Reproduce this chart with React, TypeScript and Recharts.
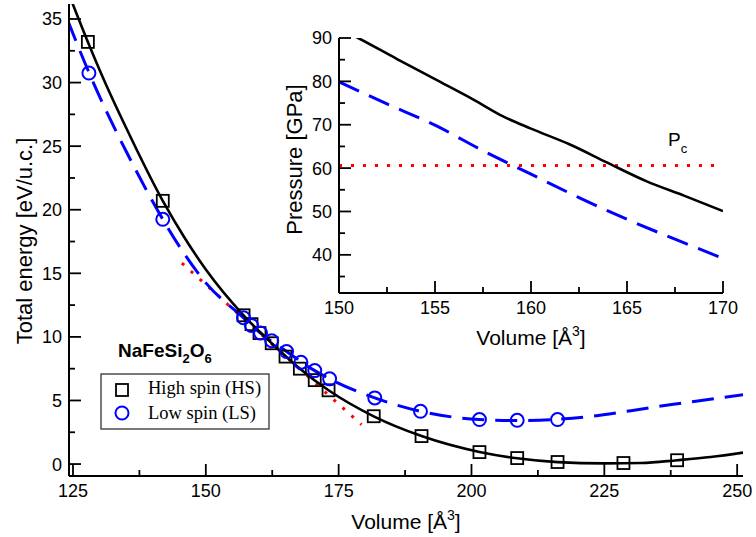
import React from 'react';
import {
  ComposedChart,
  Line,
  Scatter,
  XAxis,
  YAxis,
  ReferenceLine,
  Legend,
  CartesianGrid,
} from 'recharts';

const SANS = "'Liberation Sans', Arial, Helvetica, sans-serif";
const SERIF = "'Liberation Serif', 'Times New Roman', serif";

// ---------- main panel : total energy vs volume ----------
const HS_VOL = [127.8, 141.9, 157.1, 158.6, 160.1, 162.4, 165.0, 167.7, 170.5, 173.1, 181.6, 190.6, 201.5, 208.6, 216.2, 228.6, 238.7];
const HS_ENERGY = [33.2, 20.7, 11.7, 11.0, 10.3, 9.5, 8.45, 7.5, 6.6, 5.8, 3.76, 2.2, 0.94, 0.47, 0.16, 0.08, 0.3];

const LS_VOL = [128.0, 141.9, 157.1, 158.6, 160.3, 162.4, 165.2, 167.9, 170.5, 173.3, 181.8, 190.4, 201.5, 208.6, 216.2];
const LS_ENERGY = [30.75, 19.25, 11.5, 10.9, 10.3, 9.7, 8.85, 8.0, 7.35, 6.7, 5.2, 4.15, 3.5, 3.44, 3.5];

const HS_FIT_VOL = [124, 127.8, 131, 135, 141.9, 146, 150, 157.1, 162.4, 167.7, 173.1, 181.6, 190.6, 201.5, 208.6, 216.2, 225, 232, 238.7, 245, 251.5];
const HS_FIT_ENERGY = [37.2, 33.2, 30.05, 26.45, 20.7, 17.8, 15.3, 11.7, 9.5, 7.5, 5.8, 3.75, 2.2, 0.95, 0.45, 0.15, 0.05, 0.08, 0.3, 0.55, 0.92];

const LS_FIT_VOL = [124, 128, 131, 135, 141.9, 146, 150, 157.1, 160.3, 165.2, 170.5, 173.3, 181.8, 190.4, 201.5, 208.6, 216.2, 222, 230, 238, 246, 251.5];
const LS_FIT_ENERGY = [34.9, 30.8, 28.0, 24.6, 19.25, 16.5, 14.25, 11.5, 10.3, 8.85, 7.35, 6.7, 5.2, 4.15, 3.5, 3.42, 3.52, 3.72, 4.2, 4.7, 5.15, 5.48];

const TANGENT_VOL = [145.5, 179.3];
const TANGENT_ENERGY = [15.8, 3.1];

const MAIN_X_DOMAIN = [124.25, 251.1];
const MAIN_Y_DOMAIN = [-0.94, 36.18];
const MAIN_X_TICKS = [125, 137.5, 150, 162.5, 175, 187.5, 200, 212.5, 225, 237.5, 250];
const MAIN_X_LABELS = [125, 150, 175, 200, 225, 250];
const MAIN_Y_TICKS = [0, 2.5, 5, 7.5, 10, 12.5, 15, 17.5, 20, 22.5, 25, 27.5, 30, 32.5, 35];
const MAIN_Y_LABELS = [0, 5, 10, 15, 20, 25, 30, 35];

// ---------- inset : pressure vs volume ----------
const HS_P_VOL = [150, 151, 153, 155, 157, 158.6, 160, 162, 164, 166, 168, 170];
const HS_PRESSURE = [92.2, 90, 85.2, 80.5, 75.8, 71.8, 69.1, 65.5, 61.2, 57.0, 53.6, 50.1];

const LS_P_VOL = [150, 152.5, 155, 157.5, 160, 162.5, 165, 167.5, 170];
const LS_PRESSURE = [79.9, 74.8, 69.9, 64.0, 58.6, 53.2, 48.2, 43.6, 39.2];

const PC_PRESSURE = 60.6;

const INSET_X_DOMAIN = [150, 170];
const INSET_Y_DOMAIN = [31.2, 90];
const INSET_X_TICKS = [150, 152.5, 155, 157.5, 160, 162.5, 165, 167.5, 170];
const INSET_X_LABELS = [150, 155, 160, 165, 170];
const INSET_Y_TICKS = [35, 40, 45, 50, 55, 60, 65, 70, 75, 80, 85, 90];
const INSET_Y_LABELS = [40, 50, 60, 70, 80, 90];

const zip = (xs: number[], ys: number[]) => xs.map((x, i) => ({ x, y: ys[i] }));

const hsPoints = zip(HS_VOL, HS_ENERGY);
const lsPoints = zip(LS_VOL, LS_ENERGY);
const hsFit = zip(HS_FIT_VOL, HS_FIT_ENERGY);
const lsFit = zip(LS_FIT_VOL, LS_FIT_ENERGY);
const tangent = zip(TANGENT_VOL, TANGENT_ENERGY);
const hsPressure = zip(HS_P_VOL, HS_PRESSURE);
const lsPressure = zip(LS_P_VOL, LS_PRESSURE);

function FrameTick(props: any) {
  const { x, y, payload, side, labels, showLabel } = props;
  const v = Number(payload?.value);
  const major = labels.includes(v);
  const len = major ? 12 : 6;
  const s = { stroke: '#000', strokeWidth: 1.8 };
  let line: any = null;
  let text: any = null;
  const tp = { fontFamily: SANS, fontSize: 18, fill: '#000' };
  if (side === 'bottom') {
    line = <line x1={x} x2={x} y1={y} y2={y - len} {...s} />;
    if (major && showLabel)
      text = (
        <text x={x} y={y + 21} textAnchor="middle" {...tp}>
          {v}
        </text>
      );
  } else if (side === 'top') {
    line = <line x1={x} x2={x} y1={y} y2={y + len} {...s} />;
  } else if (side === 'left') {
    line = <line x1={x} x2={x + len} y1={y} y2={y} {...s} />;
    if (major && showLabel)
      text = (
        <text x={x - 7} y={y} dy="0.36em" textAnchor="end" {...tp}>
          {v}
        </text>
      );
  } else {
    line = <line x1={x} x2={x - len} y1={y} y2={y} {...s} />;
  }
  return (
    <g>
      {line}
      {text}
    </g>
  );
}

function Square(props: any) {
  const { cx, cy } = props;
  if (cx == null || cy == null) return null;
  return <rect x={cx - 6} y={cy - 6} width={12} height={12} fill="none" stroke="#000" strokeWidth={1.8} />;
}

function Ring(props: any) {
  const { cx, cy } = props;
  if (cx == null || cy == null) return null;
  return <circle cx={cx} cy={cy} r={6.5} fill="none" stroke="#0000ff" strokeWidth={2} />;
}

function XTitle(props: any) {
  const vb = props.viewBox || {};
  const cx = vb.x + vb.width / 2;
  return (
    <text x={cx} y={vb.y + props.dyBase} textAnchor="middle" fontFamily={SANS} fontSize={21} fill="#000">
      Volume [Å
      <tspan fontSize={14} dy={-9}>
        3
      </tspan>
      <tspan dy={9}>]</tspan>
    </text>
  );
}

function YTitle(props: any) {
  const vb = props.viewBox || {};
  const x = vb.x + props.dxBase;
  const y = vb.y + vb.height / 2 + (props.dyShift || 0);
  return (
    <text
      x={x}
      y={y}
      transform={`rotate(-90 ${x} ${y})`}
      textAnchor="middle"
      dominantBaseline="central"
      fontFamily={SANS}
      fontSize={props.size || 22}
      fill="#000"
    >
      {props.text}
    </text>
  );
}

function PcLabel(props: any) {
  const vb = props.viewBox || {};
  const x = vb.x + vb.width - 55;
  const y = vb.y - 20;
  return (
    <text x={x} y={y} fontFamily={SANS} fontSize={19} fill="#000">
      P
      <tspan fontSize={13} dy={7}>
        c
      </tspan>
    </text>
  );
}

function LegendBox() {
  return (
    <svg width={185} height={100} style={{ display: 'block', overflow: 'visible' }}>
      <text x={23} y={22} fontFamily={SANS} fontWeight="bold" fontSize={19} fill="#000">
        NaFeSi
        <tspan fontSize={13} dy={6}>
          2
        </tspan>
        <tspan dy={-6}>O</tspan>
        <tspan fontSize={13} dy={6}>
          6
        </tspan>
      </text>
      <rect x={6} y={39} width={168} height={55} fill="#fff" stroke="#333" strokeWidth={1.3} />
      <rect x={21} y={49} width={12} height={12} fill="none" stroke="#000" strokeWidth={1.8} />
      <text x={53} y={59} fontFamily={SERIF} fontSize={18.5} fill="#000">
        High spin (HS)
      </text>
      <circle cx={27} cy={78} r={6.5} fill="none" stroke="#0000ff" strokeWidth={2} />
      <text x={53} y={84} fontFamily={SERIF} fontSize={18.5} fill="#000">
        Low spin (LS)
      </text>
    </svg>
  );
}

const axisLine = { stroke: '#000', strokeWidth: 2 };

export default function App() {
  return (
    <div style={{ position: 'absolute', left: 0, top: 0, width: 756, height: 537, background: '#fff' }}>
      <div style={{ position: 'absolute', left: 0, top: 0 }}>
        <ComposedChart width={756} height={537} margin={{ top: 4, right: 13, left: 0, bottom: 0 }}>
          <XAxis
            xAxisId="b"
            dataKey="x"
            type="number"
            orientation="bottom"
            domain={MAIN_X_DOMAIN}
            allowDataOverflow
            ticks={MAIN_X_TICKS}
            interval={0}
            height={61}
            tickSize={0}
            tickMargin={0}
            tickLine={false}
            axisLine={axisLine}
            tick={<FrameTick side="bottom" labels={MAIN_X_LABELS} showLabel />}
            label={<XTitle dyBase={53} />}
          />
          <XAxis
            xAxisId="t"
            type="number"
            orientation="top"
            domain={MAIN_X_DOMAIN}
            allowDataOverflow
            ticks={MAIN_X_TICKS}
            interval={0}
            height={0}
            tickSize={0}
            tickMargin={0}
            tickLine={false}
            axisLine={axisLine}
            tick={<FrameTick side="top" labels={MAIN_X_LABELS} />}
          />
          <YAxis
            yAxisId="l"
            dataKey="y"
            type="number"
            orientation="left"
            domain={MAIN_Y_DOMAIN}
            allowDataOverflow
            ticks={MAIN_Y_TICKS}
            interval={0}
            width={69}
            tickSize={0}
            tickMargin={0}
            tickLine={false}
            axisLine={axisLine}
            tick={<FrameTick side="left" labels={MAIN_Y_LABELS} showLabel />}
            label={<YTitle text="Total energy [eV/u.c.]" dxBase={24} dyShift={1} size={22} />}
          />
          <YAxis
            yAxisId="r"
            type="number"
            orientation="right"
            domain={MAIN_Y_DOMAIN}
            allowDataOverflow
            ticks={MAIN_Y_TICKS}
            interval={0}
            width={0}
            tickSize={0}
            tickMargin={0}
            tickLine={false}
            axisLine={axisLine}
            tick={<FrameTick side="right" labels={MAIN_Y_LABELS} />}
          />
          <Line
            xAxisId="b"
            yAxisId="l"
            data={tangent}
            dataKey="y"
            type="linear"
            stroke="#ff0000"
            strokeWidth={3}
            strokeDasharray="3 9"
            dot={false}
            activeDot={false}
            legendType="none"
            isAnimationActive={false}
          />
          <Line
            xAxisId="b"
            yAxisId="l"
            data={lsFit}
            dataKey="y"
            type="monotone"
            stroke="#0000ff"
            strokeWidth={3}
            strokeDasharray="22 11"
            dot={false}
            activeDot={false}
            legendType="none"
            isAnimationActive={false}
          />
          <Line
            xAxisId="b"
            yAxisId="l"
            data={hsFit}
            dataKey="y"
            type="monotone"
            stroke="#000"
            strokeWidth={2.6}
            dot={false}
            activeDot={false}
            legendType="none"
            isAnimationActive={false}
          />
          <Scatter
            xAxisId="b"
            yAxisId="l"
            name="High spin (HS)"
            data={hsPoints}
            shape={<Square />}
            isAnimationActive={false}
          />
          <Scatter
            xAxisId="b"
            yAxisId="l"
            name="Low spin (LS)"
            data={lsPoints}
            shape={<Ring />}
            isAnimationActive={false}
          />
          <Legend
            layout="vertical"
            align="center"
            verticalAlign="middle"
            content={() => <LegendBox />}
            wrapperStyle={{ position: 'absolute', left: 95, top: 335, width: 185, height: 100 }}
          />
        </ComposedChart>
      </div>

      <div style={{ position: 'absolute', left: 270, top: 20 }}>
        <ComposedChart width={480} height={340} margin={{ top: 18, right: 27, left: 0, bottom: 0 }}>
          <CartesianGrid xAxisId="b" yAxisId="l" fill="#fff" horizontal={false} vertical={false} />
          <XAxis
            xAxisId="b"
            dataKey="x"
            type="number"
            orientation="bottom"
            domain={INSET_X_DOMAIN}
            allowDataOverflow
            ticks={INSET_X_TICKS}
            interval={0}
            height={67}
            tickSize={0}
            tickMargin={0}
            tickLine={false}
            axisLine={axisLine}
            tick={<FrameTick side="bottom" labels={INSET_X_LABELS} showLabel />}
            label={<XTitle dyBase={52} />}
          />
          <XAxis
            xAxisId="t"
            type="number"
            orientation="top"
            domain={INSET_X_DOMAIN}
            allowDataOverflow
            ticks={INSET_X_TICKS}
            interval={0}
            height={0}
            tickSize={0}
            tickMargin={0}
            tickLine={false}
            axisLine={axisLine}
            tick={<FrameTick side="top" labels={INSET_X_LABELS} />}
          />
          <YAxis
            yAxisId="l"
            dataKey="y"
            type="number"
            orientation="left"
            domain={INSET_Y_DOMAIN}
            allowDataOverflow
            ticks={INSET_Y_TICKS}
            interval={0}
            width={69}
            tickSize={0}
            tickMargin={0}
            tickLine={false}
            axisLine={axisLine}
            tick={<FrameTick side="left" labels={INSET_Y_LABELS} showLabel />}
            label={<YTitle text="Pressure [GPa]" dxBase={24} dyShift={-6} size={22} />}
          />
          <YAxis
            yAxisId="r"
            type="number"
            orientation="right"
            domain={INSET_Y_DOMAIN}
            allowDataOverflow
            ticks={INSET_Y_TICKS}
            interval={0}
            width={0}
            tickSize={0}
            tickMargin={0}
            tickLine={false}
            axisLine={axisLine}
            tick={<FrameTick side="right" labels={INSET_Y_LABELS} />}
          />
          <ReferenceLine
            xAxisId="b"
            yAxisId="l"
            y={PC_PRESSURE}
            stroke="#ff0000"
            strokeWidth={3}
            strokeDasharray="3 9"
            label={<PcLabel />}
          />
          <Line
            xAxisId="b"
            yAxisId="l"
            data={lsPressure}
            dataKey="y"
            type="monotone"
            stroke="#0000ff"
            strokeWidth={3}
            strokeDasharray="22 11"
            dot={false}
            activeDot={false}
            legendType="none"
            isAnimationActive={false}
          />
          <Line
            xAxisId="b"
            yAxisId="l"
            data={hsPressure}
            dataKey="y"
            type="monotone"
            stroke="#000"
            strokeWidth={2.6}
            dot={false}
            activeDot={false}
            legendType="none"
            isAnimationActive={false}
          />
        </ComposedChart>
      </div>
    </div>
  );
}
